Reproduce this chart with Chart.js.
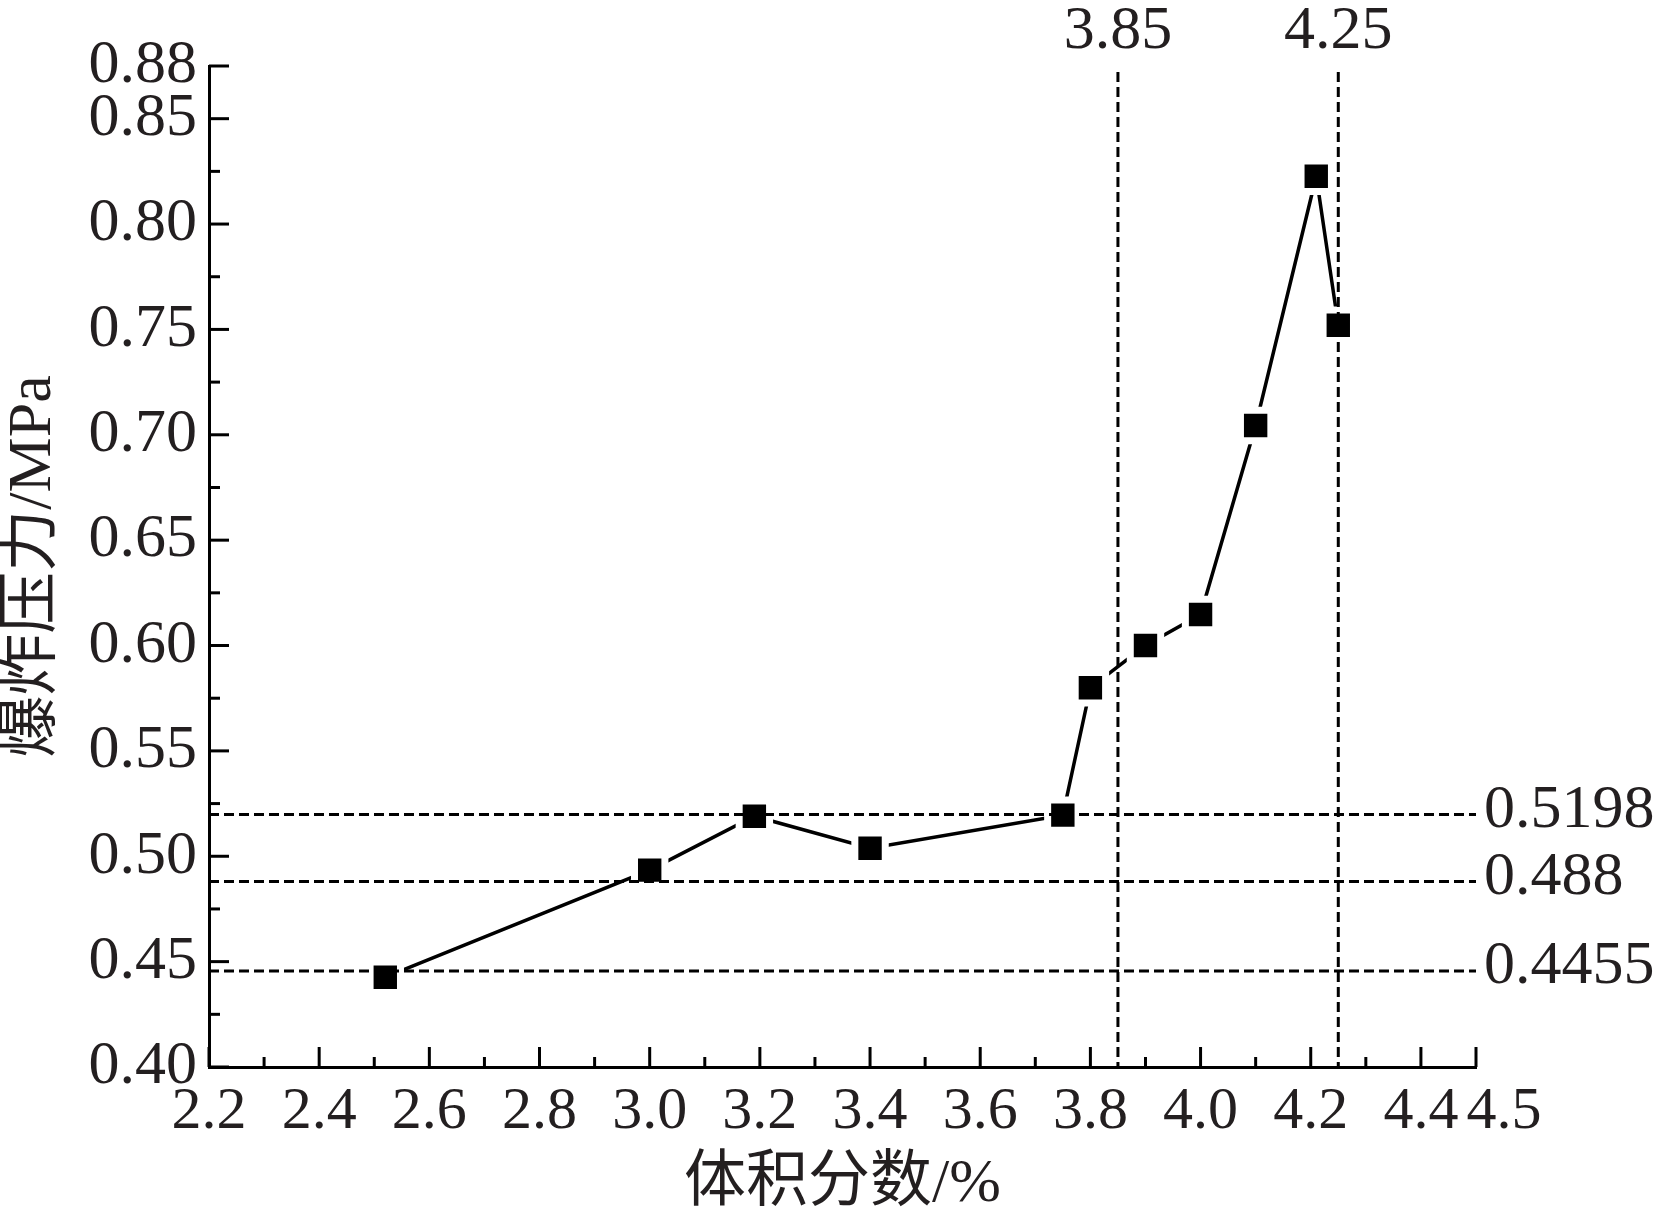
<!DOCTYPE html>
<html>
<head>
<meta charset="utf-8">
<script src="https://cdn.jsdelivr.net/npm/chart.js@4.4.1/dist/chart.umd.min.js"></script>
<style>
  html, body { margin: 0; padding: 0; background: #fff; }
</style>
</head>
<body>
<canvas id="myChart" width="1656" height="1223"></canvas>
<script>
// volume fraction (%) vs explosion pressure (MPa)
const volume = [2.52, 3.00, 3.19, 3.40, 3.75, 3.80, 3.90, 4.00, 4.10, 4.21, 4.25];
const pressure = [0.4426, 0.4934, 0.519, 0.5038, 0.5195, 0.580, 0.600, 0.6147, 0.7044, 0.8227, 0.752];

const xMajor = [2.2, 2.4, 2.6, 2.8, 3.0, 3.2, 3.4, 3.6, 3.8, 4.0, 4.2, 4.4, 4.5];
const xMinor = [2.3, 2.5, 2.7, 2.9, 3.1, 3.3, 3.5, 3.7, 3.9, 4.1, 4.3];
const yMajor = [0.40, 0.45, 0.50, 0.55, 0.60, 0.65, 0.70, 0.75, 0.80, 0.85, 0.875];
const yMinor = [0.425, 0.475, 0.525, 0.575, 0.625, 0.675, 0.725, 0.775, 0.825];

// dashed reference lines
const hLines = [0.5198, 0.488, 0.4455];
const hLabels = ['0.5198', '0.488', '0.4455'];
const vLines = [3.85, 4.25];
const vLabels = ['3.85', '4.25'];

const textColor = '#231f20';
const serif = '"Liberation Serif", "Noto Sans CJK SC", serif';
const xTickPad = 9;

const extras = {
  id: 'extras',
  afterDatasetsDraw(chart) {
    const ctx = chart.ctx;
    const a = chart.chartArea;
    const x = chart.scales.x;
    const y = chart.scales.y;
    ctx.save();
    ctx.strokeStyle = '#000';

    // dashed lines
    ctx.lineWidth = 3;
    ctx.setLineDash([10, 5]);
    hLines.forEach(v => {
      const py = y.getPixelForValue(v);
      ctx.beginPath();
      ctx.moveTo(a.left, py);
      ctx.lineTo(a.right, py);
      ctx.stroke();
    });
    vLines.forEach(v => {
      const px = x.getPixelForValue(v);
      ctx.beginPath();
      ctx.moveTo(px, a.top + 6);
      ctx.lineTo(px, a.bottom);
      ctx.stroke();
    });

    // inward ticks
    ctx.setLineDash([]);
    ctx.lineWidth = 3;
    const seg = (x1, y1, x2, y2) => {
      ctx.beginPath();
      ctx.moveTo(x1, y1);
      ctx.lineTo(x2, y2);
      ctx.stroke();
    };
    xMajor.forEach(v => { const px = x.getPixelForValue(v); seg(px, a.bottom, px, a.bottom - 20); });
    xMinor.forEach(v => { const px = x.getPixelForValue(v); seg(px, a.bottom, px, a.bottom - 10); });
    yMajor.forEach(v => { const py = y.getPixelForValue(v); seg(a.left, py, a.left + 20, py); });
    yMinor.forEach(v => { const py = y.getPixelForValue(v); seg(a.left, py, a.left + 11, py); });

    // labels of the reference lines
    ctx.fillStyle = textColor;
    ctx.font = '62px ' + serif;
    ctx.textBaseline = 'middle';
    ctx.textAlign = 'left';
    hLines.forEach((v, i) => ctx.fillText(hLabels[i], a.right + 8, y.getPixelForValue(v) - 4));
    ctx.textAlign = 'center';
    vLines.forEach((v, i) => ctx.fillText(vLabels[i], x.getPixelForValue(v), 32));

    // last x label sits shifted right, next to 4.4
    ctx.font = '60px ' + serif;
    ctx.fillText('4.5', x.getPixelForValue(4.5) + 28, a.bottom + xTickPad + 36);
    ctx.restore();
  }
};

const config = {
  type: 'scatter',
  data: {
    datasets: [{
      data: volume.map((v, i) => ({ x: v, y: pressure[i] })),
      showLine: true,
      borderColor: '#000',
      borderWidth: 3.5,
      tension: 0,
      pointStyle: 'rect',
      pointRadius: 21.5,
      pointBackgroundColor: '#000',
      pointBorderColor: '#fff',
      pointBorderWidth: 7
    }]
  },
  options: {
    responsive: false,
    animation: false,
    events: [],
    layout: {
      padding: { left: 0, top: 66, right: 180, bottom: 0 }
    },
    scales: {
      x: {
        type: 'linear',
        min: 2.2,
        max: 4.5,
        grid: { display: false, drawTicks: false },
        border: { display: true, color: '#000', width: 3 },
        afterBuildTicks: s => { s.ticks = xMajor.map(v => ({ value: v })); },
        afterFit: s => { s.height = 156; },
        ticks: {
          autoSkip: false,
          maxRotation: 0,
          padding: xTickPad,
          color: textColor,
          font: { family: serif, size: 60 },
          callback: v => (v === 4.5 ? '' : v.toFixed(1))
        },
        title: {
          display: true,
          text: '体积分数/%',
          color: textColor,
          font: { family: serif, size: 62, lineHeight: 1 },
          padding: { top: 0, bottom: 7 }
        }
      },
      y: {
        type: 'linear',
        min: 0.40,
        max: 0.875,
        grid: { display: false, drawTicks: false },
        border: { display: true, color: '#000', width: 3 },
        afterBuildTicks: s => { s.ticks = yMajor.map(v => ({ value: v })); },
        afterFit: s => { s.width = 209; },
        ticks: {
          autoSkip: false,
          padding: 12,
          color: textColor,
          font: { family: serif, size: 62 },
          callback: v => v.toFixed(2)
        },
        title: {
          display: true,
          text: '爆炸压力/MPa',
          color: textColor,
          font: { family: serif, size: 62, lineHeight: 1 },
          padding: { top: 3, bottom: 0 }
        }
      }
    },
    plugins: {
      legend: { display: false },
      tooltip: { enabled: false }
    }
  },
  plugins: [extras]
};

var myChart = new Chart(document.getElementById('myChart'), config);
</script>
</body>
</html>
